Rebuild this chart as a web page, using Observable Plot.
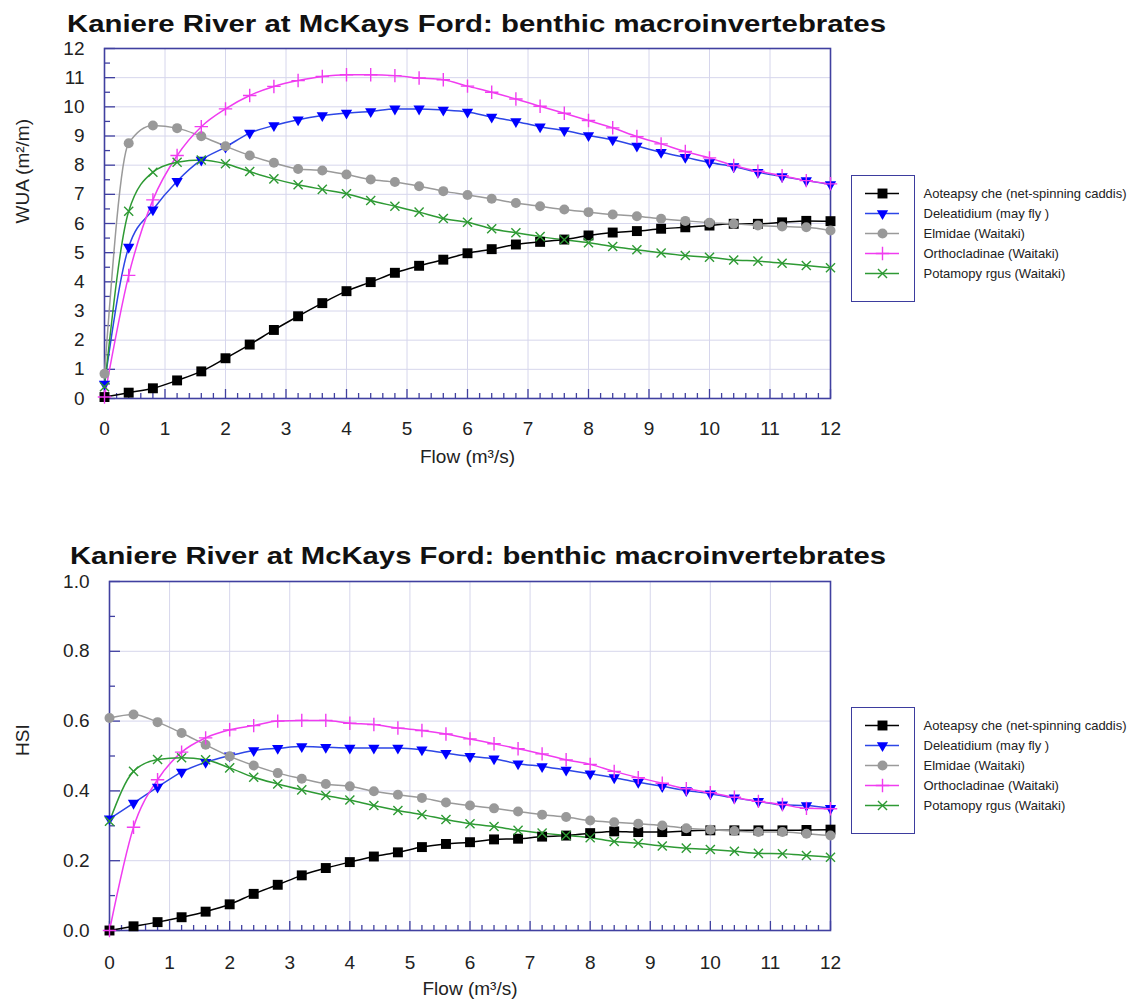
<!DOCTYPE html>
<html><head><meta charset="utf-8">
<script src="https://cdn.jsdelivr.net/npm/d3@7"></script>
<script src="https://cdn.jsdelivr.net/npm/@observablehq/plot@0.6"></script>
<style>
html,body{margin:0;padding:0;background:#fff;overflow:hidden;}
#root{position:relative;width:1147px;height:1002px;font-family:"Liberation Sans",Arial,sans-serif;}
.abs{position:absolute;}
.title{font-weight:bold;font-size:24px;line-height:24px;color:#111;white-space:nowrap;transform-origin:0 0;}
.legbox{border:1.5px solid #3d3d9e;box-sizing:border-box;}
svg{overflow:visible;}
</style></head><body><div id="root"></div>
<script>
// ---- data ----
const titleText = "Kaniere River at McKays Ford: benthic macroinvertebrates";
const flow = [0,0.4,0.8,1.2,1.6,2.0,2.4,2.8,3.2,3.6,4.0,4.4,4.8,5.2,5.6,6.0,6.4,6.8,7.2,7.6,8.0,8.4,8.8,9.2,9.6,10.0,10.4,10.8,11.2,11.6,12.0];
const seriesNames = ["Aoteapsyche","Deleatidium","Elmidae","Orthocladinae","Potamopyrgus"];
const legendLabels = ["Aoteapsy che (net-spinning caddis)","Deleatidium (may fly )","Elmidae (Waitaki)","Orthocladinae (Waitaki)","Potamopy rgus (Waitaki)"];

const wuaAoteapsyche = [0.05,0.2,0.35,0.62,0.93,1.38,1.85,2.35,2.82,3.27,3.68,3.99,4.31,4.55,4.76,4.98,5.12,5.28,5.37,5.45,5.59,5.69,5.74,5.82,5.87,5.93,5.99,5.99,6.04,6.09,6.08];
const wuaDeleatidium = [0.5,5.19,6.47,7.45,8.18,8.62,9.1,9.36,9.56,9.70,9.79,9.84,9.93,9.93,9.89,9.82,9.65,9.50,9.32,9.19,9.02,8.87,8.66,8.44,8.27,8.09,7.95,7.76,7.61,7.47,7.34];
const wuaElmidae = [0.85,8.75,9.36,9.27,8.99,8.65,8.33,8.08,7.87,7.82,7.68,7.51,7.42,7.28,7.11,6.98,6.85,6.70,6.59,6.48,6.39,6.31,6.25,6.16,6.09,6.03,5.99,5.93,5.90,5.87,5.76];
const wuaOrthocladinae = [0.05,4.22,6.81,8.33,9.32,9.93,10.39,10.70,10.90,11.04,11.10,11.10,11.07,10.99,10.93,10.71,10.50,10.27,10.02,9.78,9.53,9.28,8.98,8.73,8.47,8.25,7.99,7.79,7.64,7.47,7.36];
const wuaPotamopyrgus = [0.4,6.42,7.76,8.10,8.18,8.05,7.78,7.53,7.33,7.17,7.02,6.79,6.59,6.39,6.17,6.04,5.82,5.68,5.55,5.44,5.34,5.21,5.10,4.99,4.90,4.84,4.75,4.71,4.64,4.56,4.48];

const hsiAoteapsyche = [0.0,0.012,0.024,0.038,0.054,0.075,0.105,0.131,0.158,0.179,0.196,0.212,0.224,0.239,0.248,0.253,0.261,0.263,0.269,0.272,0.279,0.284,0.282,0.282,0.285,0.287,0.287,0.287,0.287,0.288,0.289];
const hsiDeleatidium = [0.32,0.365,0.411,0.454,0.482,0.501,0.516,0.522,0.527,0.525,0.523,0.523,0.523,0.518,0.508,0.499,0.492,0.478,0.470,0.460,0.449,0.438,0.425,0.413,0.401,0.392,0.380,0.370,0.360,0.358,0.350];
const hsiElmidae = [0.609,0.619,0.597,0.566,0.532,0.499,0.473,0.451,0.435,0.420,0.413,0.399,0.389,0.380,0.367,0.358,0.350,0.341,0.332,0.325,0.315,0.310,0.306,0.301,0.293,0.289,0.285,0.282,0.282,0.277,0.272];
const hsiOrthocladinae = [0.0,0.296,0.432,0.511,0.552,0.575,0.587,0.600,0.602,0.602,0.594,0.590,0.580,0.573,0.563,0.549,0.535,0.521,0.506,0.489,0.476,0.456,0.438,0.422,0.406,0.395,0.382,0.370,0.361,0.350,0.349];
const hsiPotamopyrgus = [0.313,0.456,0.490,0.495,0.489,0.466,0.439,0.420,0.403,0.387,0.374,0.358,0.344,0.332,0.318,0.306,0.298,0.287,0.279,0.272,0.266,0.255,0.250,0.242,0.236,0.232,0.227,0.221,0.220,0.215,0.210];

const xMajorTicks = [0,1,2,3,4,5,6,7,8,9,10,11,12];
const xMinorTicks = [0.2,0.4,0.6,0.8,1.2,1.4,1.6,1.8,2.2,2.4,2.6,2.8,3.2,3.4,3.6,3.8,4.2,4.4,4.6,4.8,5.2,5.4,5.6,5.8,6.2,6.4,6.6,6.8,7.2,7.4,7.6,7.8,8.2,8.4,8.6,8.8,9.2,9.4,9.6,9.8,10.2,10.4,10.6,10.8,11.2,11.4,11.6,11.8];
const wuaTicks = [0,1,2,3,4,5,6,7,8,9,10,11,12];
const wuaMinor = [0.5,1.5,2.5,3.5,4.5,5.5,6.5,7.5,8.5,9.5,10.5,11.5];
const hsiTicks = [0,0.2,0.4,0.6,0.8,1.0];
const hsiMinor = [0.1,0.3,0.5,0.7,0.9];

// ---- styles ----
const FRAME = "#4040a0";
const GRID = "#d6d6ec";
const styles = [
  {line:"#000000", symbol:"square", fill:"#000000", stroke:"none", r:5.6, rotate:0},
  {line:"#2d46e6", symbol:"triangle", fill:"#0000ff", stroke:"none", r:4.2, rotate:180},
  {line:"#9a9a9a", symbol:"circle", fill:"#999999", stroke:"none", r:5, rotate:0},
  {line:"#f03cf0", symbol:"plus", fill:"none", stroke:"#f03cf0", r:4.4, rotate:0},
  {line:"#2e9a34", symbol:"times", fill:"none", stroke:"#2e9a34", r:4.2, rotate:0}
];

const root = document.getElementById("root");

function place(el, left, top) {
  el.classList.add("abs");
  el.style.left = left + "px";
  el.style.top = top + "px";
  root.appendChild(el);
  return el;
}

function chart({top, marginLeft, marginTop, marginBottom, height, yDomain, yMajor, yMinor, yFormat, yLabel, seriesValues, xPad, yLabelDx}) {
  const width = 850, marginRight = 20;
  const pw = width - marginLeft - marginRight;
  const ph = height - marginTop - marginBottom;
  const marks = [
    Plot.gridX(xMajorTicks.slice(1, -1), {stroke: GRID, strokeOpacity: 1, strokeWidth: 1}),
    Plot.gridY(yMajor.slice(1, -1), {stroke: GRID, strokeOpacity: 1, strokeWidth: 1}),
    Plot.tickX(xMinorTicks, {x: d => d, stroke: FRAME, strokeWidth: 1.3, insetTop: ph - 5}),
    Plot.tickX(xMajorTicks, {x: d => d, stroke: FRAME, strokeWidth: 1.3, insetTop: ph - 9}),
    Plot.tickY(yMinor, {y: d => d, stroke: FRAME, strokeWidth: 1.3, insetRight: pw - 6}),
    Plot.tickY(yMajor, {y: d => d, stroke: FRAME, strokeWidth: 1.3, insetRight: pw - 11}),
    Plot.frame({stroke: FRAME, strokeWidth: 1.6}),
    Plot.axisX(xMajorTicks, {tickSize: 0, tickPadding: xPad, fontSize: 19, label: null, tickFormat: d => String(d)}),
    Plot.axisY(yMajor, {tickSize: 0, tickPadding: 20, fontSize: 19, label: null, tickFormat: yFormat}),
    Plot.text(["Flow (m³/s)"], {text: d => d, frameAnchor: "bottom", dy: 64, fontSize: 19}),
    Plot.text([yLabel], {text: d => d, frameAnchor: "left", dx: yLabelDx, rotate: -90, fontSize: 19})
  ];
  seriesValues.forEach((vals, i) => {
    const st = styles[i];
    const rows = flow.map((f, j) => ({flow: f, v: vals[j]}));
    marks.push(Plot.line(rows, {x: "flow", y: "v", stroke: st.line, strokeWidth: 1.5, curve: "monotone-x"}));
  });
  seriesValues.forEach((vals, i) => {
    const st = styles[i];
    const rows = flow.map((f, j) => ({flow: f, v: vals[j]}));
    marks.push(Plot.dot(rows, {x: "flow", y: "v", symbol: st.symbol, fill: st.fill, stroke: st.stroke, strokeWidth: 1.4, r: st.r, rotate: st.rotate}));
  });
  const svg = Plot.plot({
    width, height, marginLeft, marginRight, marginTop, marginBottom,
    x: {domain: [0, 12], label: null},
    y: {domain: yDomain, label: null},
    style: {fontFamily: '"Liberation Sans", Arial, sans-serif', color: "#222", background: "transparent", overflow: "visible"},
    marks
  });
  place(svg, 0, top);
}

function legend(top) {
  const rows = seriesNames.map((n, i) => ({name: n, label: legendLabels[i], i}));
  const box = document.createElement("div");
  box.className = "legbox";
  box.style.width = "64px";
  box.style.height = "127px";
  place(box, 851, top);
  const marks = [
    Plot.tickY(rows, {y: "name", stroke: d => styles[d.i].line, strokeWidth: 1.5, insetLeft: 14, insetRight: 300 - 48})
  ];
  rows.forEach(d => {
    const st = styles[d.i];
    marks.push(Plot.dot([d], {y: "name", frameAnchor: "left", dx: 31, symbol: st.symbol, fill: st.fill, stroke: st.stroke, strokeWidth: 1.4, r: st.r, rotate: st.rotate}));
  });
  marks.push(Plot.text(rows, {y: "name", text: "label", frameAnchor: "left", dx: 72, textAnchor: "start", fontSize: 13, fill: "#222"}));
  const svg = Plot.plot({
    width: 300, height: 127, marginTop: 17, marginBottom: 28, marginLeft: 0, marginRight: 0,
    x: {axis: null}, y: {type: "point", domain: seriesNames, padding: 0, axis: null},
    style: {fontFamily: '"Liberation Sans", Arial, sans-serif', background: "transparent", overflow: "visible"},
    marks
  });
  place(svg, 851, top);
}

function title(left, top, targetWidth) {
  const t = document.createElement("div");
  t.className = "title";
  t.textContent = titleText;
  place(t, left, top);
  const w = t.getBoundingClientRect().width;
  t.style.transform = `scaleX(${targetWidth / w})`;
}

chart({top: 0, marginLeft: 104, marginTop: 48, marginBottom: 82, height: 480,
  yDomain: [0, 12], yMajor: wuaTicks, yMinor: wuaMinor, yFormat: d => String(d),
  yLabel: "WUA (m²/m)", xPad: 23, yLabelDx: -82,
  seriesValues: [wuaAoteapsyche, wuaDeleatidium, wuaElmidae, wuaOrthocladinae, wuaPotamopyrgus]});
chart({top: 520, marginLeft: 109, marginTop: 61, marginBottom: 70, height: 480,
  yDomain: [0, 1], yMajor: hsiTicks, yMinor: hsiMinor, yFormat: d3.format(".1f"),
  yLabel: "HSI", xPad: 25, yLabelDx: -87,
  seriesValues: [hsiAoteapsyche, hsiDeleatidium, hsiElmidae, hsiOrthocladinae, hsiPotamopyrgus]});
legend(175);
legend(707);
title(67, 12, 819);
title(70, 544, 816);
</script>
</body></html>
